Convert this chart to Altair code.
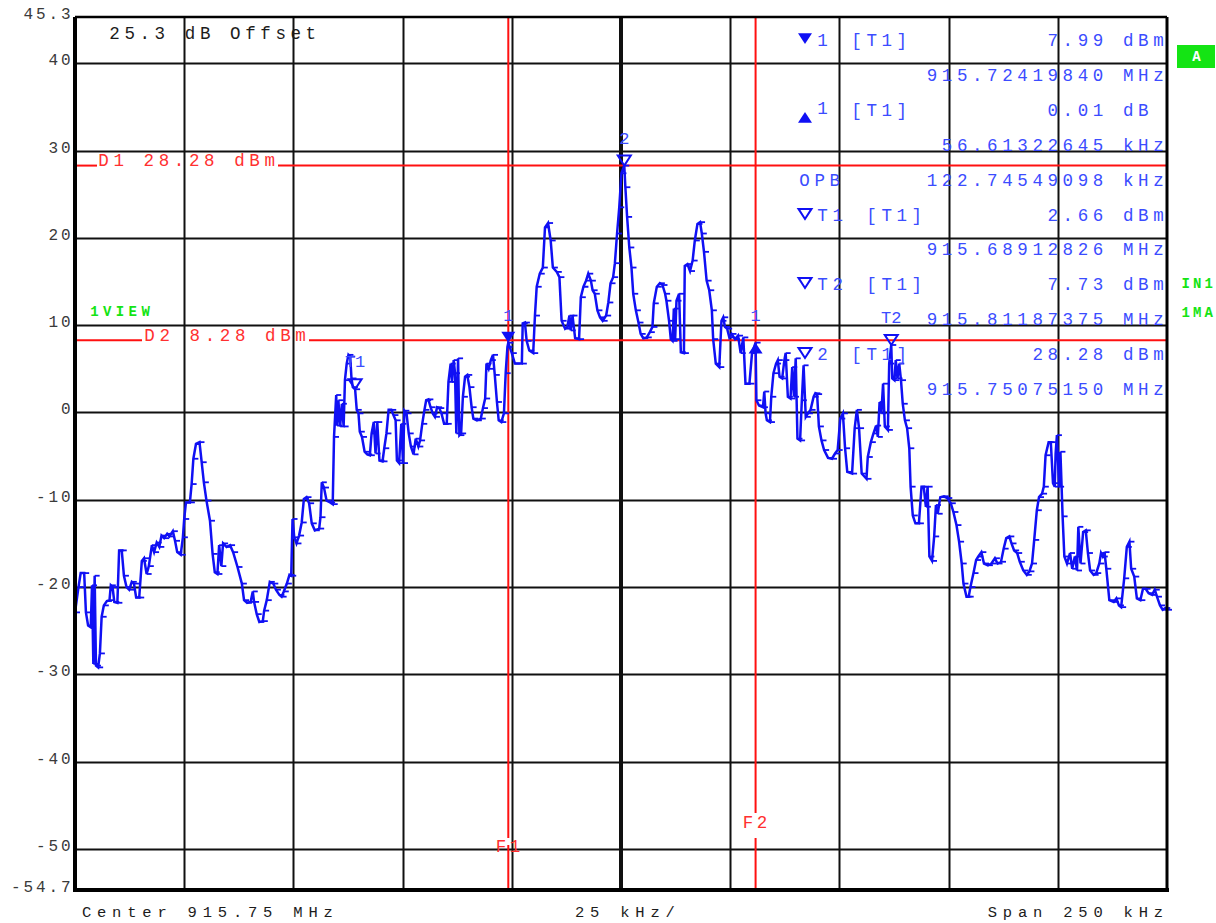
import altair as alt
import pandas as pd

# Spectrum trace: offset from the 915.625 MHz start frequency (kHz) and level (dBm)
freq_khz = [
    0.0, 0.8, 1.3, 2.1, 2.5, 3.0, 3.6, 3.9, 4.2, 4.5,
    4.8, 5.3, 5.7, 6.1, 6.6, 7.3, 7.9, 8.2, 8.6, 9.0,
    9.7, 10.1, 10.7, 11.2, 11.8, 12.4, 13.0, 13.5, 14.0, 14.7,
    15.3, 15.8, 16.4, 16.9, 17.6, 18.1, 18.7, 19.3, 19.8, 20.4,
    21.1, 21.6, 22.4, 22.9, 23.4, 24.2, 24.7, 25.0, 25.4, 26.3,
    26.7, 27.1, 27.7, 28.5, 29.0, 29.5, 30.1, 30.9, 31.5, 32.0,
    32.6, 33.0, 33.5, 33.9, 34.7, 35.5, 36.2, 37.2, 38.2, 38.7,
    39.4, 40.2, 40.7, 41.0, 41.6, 42.2, 43.0, 43.3, 43.9, 44.6,
    45.4, 46.0, 46.8, 47.3, 47.8, 48.5, 49.1, 49.5, 49.8, 50.2,
    50.7, 51.3, 51.9, 52.4, 53.0, 53.6, 54.2, 54.9, 55.9, 56.2,
    56.5, 57.0, 57.6, 58.4, 59.0, 59.3, 59.8, 60.0, 60.3, 60.7,
    61.1, 61.5, 61.8, 62.2, 62.6, 63.0, 63.3, 63.6, 64.13, 64.5,
    64.9, 65.2, 65.7, 66.3, 66.9, 67.5, 67.9, 68.4, 68.8, 69.2,
    69.7, 70.4, 70.8, 71.3, 71.8, 72.4, 72.9, 73.4, 73.7, 74.2,
    74.7, 75.1, 75.4, 75.9, 76.4, 76.9, 77.5, 78.0, 78.6, 79.0,
    79.5, 80.0, 80.4, 80.9, 81.4, 81.9, 82.4, 82.9, 83.4, 83.9,
    84.5, 85.1, 85.5, 86.0, 86.3, 86.7, 87.0, 87.3, 87.7, 88.0,
    88.4, 88.8, 89.3, 89.8, 90.3, 90.8, 91.2, 92.0, 92.9, 93.4,
    93.9, 94.2, 94.7, 95.2, 95.7, 96.1, 96.6, 97.0, 97.6, 98.2,
    98.6, 99.0, 99.2, 100.0, 100.7, 102.3, 102.5, 103.0, 103.4, 104.0,
    104.9, 105.3, 105.7, 106.4, 107.1, 107.6, 108.3, 108.9, 109.4, 110.3,
    110.9, 111.4, 112.2, 112.7, 113.2, 113.5, 113.9, 114.5, 115.4, 115.8,
    116.4, 117.0, 117.5, 118.1, 118.5, 119.0, 119.6, 120.2, 120.8, 121.6,
    122.1, 122.6, 123.2, 123.6, 124.1, 124.6, 125.1, 125.75, 126.0, 126.4,
    126.9, 127.4, 127.8, 128.4, 129.0, 129.5, 130.1, 130.9, 131.6, 132.2,
    132.5, 133.2, 133.9, 134.5, 135.1, 135.4, 136.0, 136.4, 136.8, 137.1,
    137.4, 137.7, 138.3, 138.7, 139.4, 139.6, 140.2, 140.8, 141.4, 141.9,
    142.5, 143.1, 143.5, 144.0, 144.6, 145.2, 145.8, 146.1, 146.7, 147.5,
    148.0, 148.4, 148.8, 149.3, 149.8, 150.3, 151.1, 151.8, 152.4, 153.0,
    153.5, 154.4, 155.0, 155.81, 156.0, 156.6, 157.5, 157.8, 158.1, 158.4,
    159.1, 159.4, 159.9, 160.5, 160.9, 161.3, 161.9, 162.4, 162.7, 163.2,
    163.8, 164.2, 164.6, 165.0, 165.4, 166.0, 166.4, 166.8, 167.3, 167.8,
    168.4, 169.1, 169.5, 169.9, 170.3, 170.9, 171.5, 172.4, 173.3, 174.0,
    174.6, 175.2, 175.8, 176.3, 176.8, 177.9, 178.5, 179.0, 179.5, 180.1,
    181.2, 181.5, 182.2, 182.8, 183.4, 183.8, 184.2, 184.6, 185.0, 185.4,
    186.1, 186.4, 186.87, 187.1, 187.6, 187.9, 188.3, 188.7, 189.1, 189.5,
    190.0, 190.5, 191.0, 191.3, 191.8, 192.4, 193.2, 193.8, 194.3, 194.8,
    195.2, 195.6, 196.2, 196.7, 197.1, 197.5, 198.1, 198.9, 199.7, 200.5,
    201.1, 201.8, 202.4, 203.0, 203.4, 204.1, 204.6, 205.0, 205.7, 206.3,
    206.8, 207.5, 208.1, 209.0, 209.8, 210.6, 211.2, 212.0, 212.6, 213.2,
    213.9, 214.4, 215.0, 215.7, 216.3, 217.1, 217.9, 218.5, 219.1, 219.6,
    220.2, 220.7, 221.4, 221.8, 222.2, 222.9, 223.4, 223.9, 224.3, 224.5,
    224.8, 225.3, 225.6, 226.1, 226.5, 227.1, 227.8, 228.3, 228.9, 229.4,
    229.7, 230.2, 230.8, 231.4, 231.9, 232.4, 233.2, 233.8, 234.5, 234.9,
    235.3, 235.7, 236.1, 236.8, 237.8, 238.4, 239.0, 239.5, 240.2, 240.8,
    241.4, 241.8, 242.5, 243.1, 243.9, 244.5, 245.1, 245.8, 246.6, 247.2,
    247.7, 248.4, 249.0, 249.6, 250.0,
]
level_dbm = [
    -22.9, -20.0, -18.4, -18.4, -22.9, -24.4, -24.6, -19.8, -28.8, -18.7,
    -29.0, -29.2, -27.6, -23.4, -22.1, -21.6, -21.5, -19.8, -20.0, -21.7,
    -21.8, -15.8, -15.8, -18.7, -20.0, -20.3, -19.4, -19.6, -21.2, -21.2,
    -17.0, -16.7, -18.5, -17.6, -15.2, -16.0, -14.9, -15.4, -14.1, -14.4,
    -13.9, -14.2, -13.6, -14.7, -16.0, -16.3, -14.3, -12.2, -10.3, -10.3,
    -8.2, -5.3, -3.6, -3.4, -5.7, -8.0, -10.1, -12.4, -16.2, -18.3,
    -18.5, -15.2, -17.6, -15.0, -15.4, -15.2, -16.0, -17.7, -19.6, -21.5,
    -21.8, -21.7, -20.5, -21.7, -23.1, -24.0, -23.9, -22.7, -21.5, -19.4,
    -19.6, -20.3, -20.9, -21.1, -20.5, -19.6, -18.6, -18.7, -12.2, -14.3,
    -15.0, -14.1, -12.6, -9.9, -9.7, -10.4, -12.7, -13.5, -13.3, -12.0,
    -8.0, -8.6, -10.1, -10.3, -10.5, -2.8, 2.0, -1.5, 1.4, -1.6,
    1.0, -1.6, 3.7, 5.6, 6.6, 6.4, 3.9, 2.9, 2.66, 0.3,
    -0.1, -2.2, -2.8, -4.5, -4.8, -4.9, -2.4, -1.1, -4.7, -1.1,
    -5.5, -5.6, -4.1, -2.4, 0.3, 0.3, -0.3, -0.9, -5.5, -5.8,
    -1.3, -5.8, 0.2, -0.1, -2.4, -3.9, -4.8, -3.0, -3.9, -3.2,
    -1.3, 0.3, 1.4, 1.5, 0.6, -0.1, -0.5, 0.6, 0.5, -0.1,
    -1.3, -1.3, 3.5, 5.6, 3.5, 6.0, 4.5, -2.4, 6.2, -2.6,
    -2.4, 1.8, 4.1, 4.3, 2.9, 0.6, -0.7, -0.9, -0.7, 0.5,
    1.6, 5.6, 5.0, 6.0, 6.6, 4.3, 1.2, -0.9, -1.1, -0.1,
    4.5, 7.5, 7.99, 6.8, 5.6, 5.6, 10.2, 10.3, 8.2, 7.1,
    6.8, 11.1, 14.4, 15.9, 16.6, 21.2, 21.7, 19.7, 16.6, 16.1,
    15.5, 10.5, 9.6, 9.8, 11.1, 9.4, 11.1, 8.5, 8.4, 13.2,
    14.4, 15.1, 15.9, 15.1, 14.0, 13.6, 11.7, 10.9, 10.5, 11.1,
    12.6, 14.8, 15.5, 17.1, 20.5, 23.5, 27.4, 28.28, 25.8, 22.4,
    18.9, 16.6, 13.6, 11.7, 10.3, 9.0, 8.5, 8.6, 9.2, 9.8,
    12.5, 14.4, 14.8, 14.6, 13.6, 12.8, 10.5, 8.4, 8.2, 11.9,
    8.4, 12.8, 13.6, 6.9, 6.8, 16.8, 17.0, 16.2, 17.4, 19.7,
    21.6, 21.8, 20.5, 18.4, 15.1, 14.0, 11.7, 8.4, 5.6, 5.2,
    10.5, 10.9, 9.8, 9.6, 8.6, 9.0, 8.4, 8.8, 6.8, 8.6,
    3.3, 3.3, 6.8, 8.0, 1.4, 0.8, 0.6, 2.4, -0.1, -0.9,
    -1.1, 1.8, 4.5, 5.6, 6.0, 4.1, 3.9, 6.0, 6.8, 1.8,
    1.6, 5.2, 1.8, 6.2, -3.0, -3.2, 1.4, 5.4, -0.5, -0.1,
    0.3, 1.8, 2.2, 2.1, -1.6, -3.2, -4.3, -5.2, -5.3, -4.7,
    -4.3, -0.7, -0.1, -4.1, -6.8, -7.0, -1.8, 0.3, -1.8, -7.0,
    -7.6, -5.1, -3.4, -2.4, -1.5, -2.8, 1.2, -0.1, 3.3, -1.6,
    -2.0, 5.6, 7.73, 3.9, 3.7, 6.0, 3.9, 5.6, 3.7, 1.0,
    -0.9, -1.8, -4.1, -8.5, -11.8, -12.7, -12.7, -8.5, -8.5, -10.8,
    -8.5, -16.5, -17.0, -14.2, -10.6, -11.6, -9.7, -9.6, -9.8, -10.4,
    -11.4, -12.9, -14.8, -17.3, -19.6, -21.1, -21.1, -20.0, -18.4, -16.9,
    -16.5, -16.0, -17.3, -17.5, -17.3, -16.7, -17.3, -17.1, -15.6, -14.4,
    -14.2, -15.0, -15.8, -16.1, -17.1, -18.1, -18.6, -18.2, -17.3, -14.6,
    -11.2, -9.7, -9.3, -8.5, -4.9, -3.4, -3.4, -8.1, -8.5, -4.7,
    -2.6, -8.5, -4.5, -11.9, -16.5, -17.3, -16.1, -17.9, -16.5, -18.1,
    -13.1, -17.3, -13.7, -13.5, -16.1, -18.1, -18.6, -18.4, -17.3, -16.1,
    -16.5, -16.0, -17.9, -21.5, -21.7, -21.3, -22.1, -22.3, -19.0, -15.4,
    -14.8, -17.9, -18.8, -21.3, -21.5, -20.2, -20.2, -20.7, -20.9, -20.3,
    -21.1, -22.1, -22.6, -22.4, -22.6,
]

# Markers on trace 1
marker_name = ["1", "1", "2", "T1", "T2"]
marker_khz = [99.198, 155.811, 125.752, 64.128, 186.874]
marker_dbm = [7.99, 8.00, 28.28, 2.66, 7.73]
marker_style = ["solid_down", "solid_up", "open_down", "open_down", "open_down"]

# Display lines (dBm) and frequency lines (kHz)
display_line_name = ["D1", "D2"]
display_line_dbm = [28.28, 8.28]
freq_line_name = ["F1", "F2"]
freq_line_khz = [99.198, 155.811]

# Axis values
level_labels = [45.3, 40, 30, 20, 10, 0, -10, -20, -30, -40, -50, -54.7]
level_grid = [40, 30, 20, 10, 0, -10, -20, -30, -40, -50]
freq_grid = [25, 50, 75, 100, 150, 175, 200, 225]
center_khz = [125]

# Marker readout table
readout_rows = [
    ("solid_down", "1", "[T1]", "7.99 dBm"),
    (None, "", "", "915.72419840 MHz"),
    ("solid_up", "1", "[T1]", "0.01 dB "),
    (None, "", "", "56.61322645 kHz"),
    (None, "OPB", "", "122.74549098 kHz"),
    ("open_down", "T1", "[T1]", "2.66 dBm"),
    (None, "", "", "915.68912826 MHz"),
    ("open_down", "T2", "[T1]", "7.73 dBm"),
    (None, "", "", "915.81187375 MHz"),
    ("open_down", "2", "[T1]", "28.28 dBm"),
    (None, "", "", "915.75075150 MHz"),
]

# ---- layout (page pixels) ----
W, H = 1092, 873
LEFT, TOP = 75, 17
PAGE_W, PAGE_H = 1216, 923

TRACE = "#1010f4"
TEXT_BLUE = "#3b4cff"
RED = "#ff1010"
RED_TEXT = "#ff3030"
GREEN = "#14e414"
INK = "#1c1c1c"
GRID = "#101010"
FONT = "Liberation Mono"

DOWN = "M-1,-1.55L1,-1.55L0,0Z"
UP = "M-1,1.55L1,1.55L0,0Z"

x_scale = alt.Scale(domain=[0, 250], nice=False, zero=False)
y_scale = alt.Scale(domain=[-54.7, 45.3], nice=False, zero=False)
x_axis = alt.Axis(values=freq_grid, grid=True, gridColor=GRID, gridWidth=2,
                  labels=False, ticks=False, domain=False, title=None)
y_axis = alt.Axis(values=level_grid, grid=True, gridColor=GRID, gridWidth=2,
                  labels=False, ticks=False, domain=False, title=None)
X = alt.X("f:Q", scale=x_scale, axis=x_axis)
Y = alt.Y("v:Q", scale=y_scale, axis=y_axis)
PX = alt.X("px:Q", scale=None, axis=None)
PY = alt.Y("py:Q", scale=None, axis=None)

trace = pd.DataFrame({"f": freq_khz, "v": level_dbm})
markers = pd.DataFrame({"f": marker_khz, "v": marker_dbm,
                        "name": marker_name, "style": marker_style})


def glyphs(text, x, y, anchor, color, size, pitch):
    """Lay a string out one character per fixed pitch, like the analyser's font."""
    start = x if anchor == "left" else x - len(text) * pitch
    return [dict(px=start + (i + 0.5) * pitch - LEFT, py=y - TOP, ch=c,
                 col=color, fs=size)
            for i, c in enumerate(text) if c != " "]


# plain text
rows = []
rows += glyphs("25.3 dB Offset", 107, 34, "left", INK, 17.5, 15.1)
rows += glyphs("Center 915.75 MHz", 79, 912, "left", INK, 15.5, 15.1)
rows += glyphs("25 kHz/", 572, 912, "left", INK, 15.5, 15.1)
rows += glyphs("Span 250 kHz", 1166, 912, "right", INK, 15.5, 15.1)
rows += glyphs(f"{display_line_name[0]} {display_line_dbm[0]:.2f} dBm", 96, 161, "left", RED_TEXT, 17.5, 15.1)
rows += glyphs(f"{display_line_name[1]} {display_line_dbm[1]:.2f} dBm", 142, 336, "left", RED_TEXT, 17.5, 15.1)
rows += glyphs(freq_line_name[0], 494, 847, "left", RED_TEXT, 17.5, 14)
rows += glyphs(freq_line_name[1], 741, 823, "left", RED_TEXT, 17.5, 14)

row_y = [41, 76, 111, 146, 181, 216, 250, 285, 320, 355, 390]
symbol_rows = []
for (sym, tag, trace_tag, value), y in zip(readout_rows, row_y):
    if sym is not None:
        symbol_rows.append(dict(px=805 - LEFT, py=(y + 3 if sym != "solid_up" else y + 1) - TOP,
                                style=sym))
    if tag == "OPB":
        rows += glyphs(tag, 797, y, "left", TEXT_BLUE, 17.5, 15.1)
    elif tag:
        rows += glyphs(tag, 815, y - (2 if sym == "solid_up" else 0), "left", TEXT_BLUE, 17.5, 15.1)
    if trace_tag:
        rows += glyphs(trace_tag, 864 if len(tag) == 2 else 849, y, "left", TEXT_BLUE, 17.5, 15.1)
    rows += glyphs(value, 1166, y, "right", TEXT_BLUE, 17.5, 15.1)

text_df = pd.DataFrame(rows)

bold_rows = []
bold_rows += glyphs("1VIEW", 88, 312, "left", GREEN, 14, 12.8)
bold_rows += glyphs("IN1", 1180, 284, "left", GREEN, 14, 11.5)
bold_rows += glyphs("1MA", 1180, 313, "left", GREEN, 14, 11.5)
bold_rows += glyphs("A", 1190, 57, "left", "#ffffff", 14, 13)
bold_df = pd.DataFrame(bold_rows)

# y tick labels, right-aligned against the frame
ylab_rows = []
for v in level_labels:
    s = f"{v:g}"
    for i, c in enumerate(s):
        ylab_rows.append(dict(v=v, px=72 - (len(s) - i - 0.5) * 12.5 - LEFT, ch=c))
ylab_df = pd.DataFrame(ylab_rows)

# ---- layers ----
grid_base = alt.Chart(pd.DataFrame({"f": center_khz, "v": [0]})).mark_rule(
    color=GRID, strokeWidth=4).encode(x=X, y=alt.value(0), y2=alt.value(H))

# make the axes (grid lines) exist
axes = alt.Chart(trace).mark_point(opacity=0).encode(x=X, y=Y)

# display lines with gaps for their labels
d_segments = pd.DataFrame({
    "v": [display_line_dbm[0], display_line_dbm[0], display_line_dbm[1], display_line_dbm[1]],
    "px": [0, 203, 0, 234],
    "px2": [22, W, 67, W],
})
d_lines = alt.Chart(d_segments).mark_rule(color=RED, strokeWidth=2).encode(
    x=PX, x2="px2:Q", y=Y)

f_segments = pd.DataFrame({
    "f": [freq_line_khz[0], freq_line_khz[0], freq_line_khz[1], freq_line_khz[1]],
    "py": [0, 845 - TOP, 0, 838 - TOP],
    "py2": [838 - TOP, H, 813 - TOP, H],
})
f_lines = alt.Chart(f_segments).mark_rule(color=RED, strokeWidth=2).encode(
    x=X, y=PY, y2="py2:Q")

line = alt.Chart(trace).mark_line(color=TRACE, strokeWidth=2.5).encode(x=X, y=Y)
ticks = alt.Chart(trace).mark_tick(color=TRACE, orient="horizontal", size=5,
                                   thickness=1.8, xOffset=2.5, opacity=1).encode(x=X, y=Y)

m_solid_down = alt.Chart(markers[markers["style"] == "solid_down"]).mark_point(
    shape=DOWN, size=196, filled=True, color=TRACE, opacity=1, strokeWidth=0).encode(x=X, y=Y)
m_solid_up = alt.Chart(markers[markers["style"] == "solid_up"]).mark_point(
    shape=UP, size=196, filled=True, color=TRACE, opacity=1, strokeWidth=0).encode(x=X, y=Y)
m_open = alt.Chart(markers[markers["style"] == "open_down"]).mark_point(
    shape=DOWN, size=170, filled=False, color=TRACE, opacity=1, strokeWidth=2).encode(x=X, y=Y)
m_labels = alt.Chart(markers).mark_text(
    font=FONT, fontSize=17, color=TEXT_BLUE, dy=-27).encode(x=X, y=Y, text="name:N")

sym_df = pd.DataFrame(symbol_rows)
t_solid_down = alt.Chart(sym_df[sym_df["style"] == "solid_down"]).mark_point(
    shape=DOWN, size=196, filled=True, color=TRACE, opacity=1, strokeWidth=0).encode(x=PX, y=PY)
t_solid_up = alt.Chart(sym_df[sym_df["style"] == "solid_up"]).mark_point(
    shape=UP, size=196, filled=True, color=TRACE, opacity=1, strokeWidth=0).encode(x=PX, y=PY)
t_open = alt.Chart(sym_df[sym_df["style"] == "open_down"]).mark_point(
    shape=DOWN, size=170, filled=False, color=TRACE, opacity=1, strokeWidth=2).encode(x=PX, y=PY)

green_box = alt.Chart(pd.DataFrame({"k": [0]})).mark_rect(color=GREEN).encode(
    x=alt.value(1177 - LEFT), x2=alt.value(1215 - LEFT),
    y=alt.value(45 - TOP), y2=alt.value(68 - TOP))

texts = alt.Chart(text_df).mark_text(font=FONT, align="center", baseline="middle").encode(
    x=PX, y=PY, text="ch:N",
    color=alt.Color("col:N", scale=None), size=alt.Size("fs:Q", scale=None))
bold_texts = alt.Chart(bold_df).mark_text(font=FONT, fontWeight="bold", align="center",
                                          baseline="middle").encode(
    x=PX, y=PY, text="ch:N",
    color=alt.Color("col:N", scale=None), size=alt.Size("fs:Q", scale=None))
ylabels = alt.Chart(ylab_df).mark_text(font=FONT, fontSize=16, color="#3a3a3a",
                                       align="center", baseline="middle", dy=-3).encode(
    x=PX, y=Y, text="ch:N")

# frame: heavier on the left and bottom
frame_df = pd.DataFrame({
    "px": [0, -2, 0, W], "px2": [0, W + 2, W, W],
    "py": [0, H, 0, 0], "py2": [H, H, 0, H],
    "w": [4, 4, 2.5, 3],
})
frame = alt.Chart(frame_df).mark_rule(color="#000000").encode(
    x=PX, x2="px2:Q", y=PY, y2="py2:Q", strokeWidth=alt.StrokeWidth("w:Q", scale=None))

chart = alt.layer(
    axes, grid_base, d_lines, f_lines, line, ticks,
    m_solid_down, m_solid_up, m_open, m_labels,
    t_solid_down, t_solid_up, t_open,
    green_box, texts, bold_texts, ylabels, frame,
).properties(
    width=W, height=H,
    padding={"left": LEFT, "top": TOP, "right": PAGE_W - LEFT - W, "bottom": PAGE_H - TOP - H},
    autosize=alt.AutoSizeParams(type="none"),
    background="#ffffff",
).configure_view(stroke=None)

chart.save("out.html", embed_options={"renderer": "svg", "actions": False})
